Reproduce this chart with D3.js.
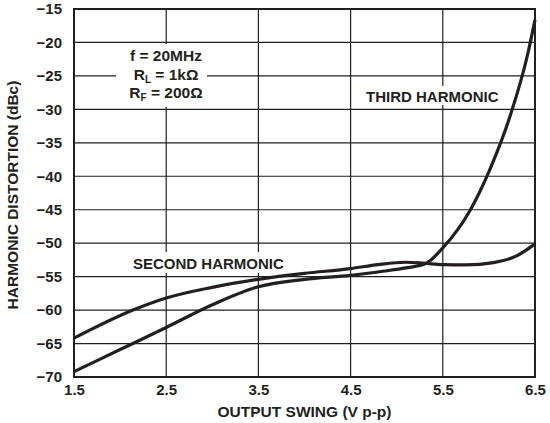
<!DOCTYPE html>
<html>
<head>
<meta charset="utf-8">
<script src="https://cdn.jsdelivr.net/npm/d3@7"></script>
<style>
  html, body { margin: 0; padding: 0; background: #fff; }
  svg { display: block; }
  text { font-family: "Liberation Sans", Arial, Helvetica, sans-serif; font-weight: bold; fill: #231f20; }
</style>
</head>
<body>
<svg id="chart" width="550" height="423"></svg>
<script>
// ---- data ----
const xTicks = [1.5, 2.5, 3.5, 4.5, 5.5, 6.5];
const yTicks = [-70, -65, -60, -55, -50, -45, -40, -35, -30, -25, -20, -15];

const secondX = [1.5, 2.14, 2.5, 3.0, 3.5, 4.0, 4.5, 4.8, 5.1, 5.3, 5.5, 5.75, 6.05, 6.3, 6.5];
const secondY = [-64.2, -60.0, -58.2, -56.6, -55.4, -54.5, -53.8, -53.2, -52.85, -53.0, -53.2, -53.25, -52.9, -51.9, -50.1];

const thirdX = [1.5, 2.0, 2.5, 3.0, 3.5, 4.0, 4.5, 4.85, 5.1, 5.32, 5.5, 5.8, 6.01, 6.23, 6.42, 6.5];
const thirdY = [-69.2, -65.9, -62.6, -59.2, -56.5, -55.4, -54.8, -54.2, -53.7, -53.0, -50.7, -45.0, -39.0, -31.0, -21.8, -16.6];

const annotation = ["f = 20MHz", "R|L| = 1k\u03A9", "R|F| = 200\u03A9"];
const xTitle = "OUTPUT SWING (V p-p)";
const yTitle = "HARMONIC DISTORTION (dBc)";

// ---- layout ----
const svg = d3.select("#chart");
const x = d3.scaleLinear().domain([1.5, 6.5]).range([74, 535]);
const y = d3.scaleLinear().domain([-70, -15]).range([377, 9]);
const ink = "#231f20";
const FONT = '"Liberation Sans", Arial, sans-serif';

// gridlines
const grid = svg.append("g");
grid.selectAll("line.v").data(xTicks).join("line")
  .attr("x1", d => x(d)).attr("x2", d => x(d))
  .attr("y1", y(-15)).attr("y2", y(-70))
  .attr("stroke", ink).attr("stroke-width", 1.2);
grid.selectAll("line.h").data(yTicks).join("line")
  .attr("y1", d => y(d)).attr("y2", d => y(d))
  .attr("x1", x(1.5)).attr("x2", x(6.5))
  .attr("stroke", ink).attr("stroke-width", 1.2);

// white boxes behind labels
svg.append("rect").attr("x", 116).attr("y", 44).attr("width", 91).attr("height", 63).attr("fill", "#fff");
svg.append("rect").attr("x", 362).attr("y", 86).attr("width", 142).attr("height", 19).attr("fill", "#fff");
svg.append("rect").attr("x", 129).attr("y", 252).attr("width", 162).attr("height", 21).attr("fill", "#fff");

// frame
svg.append("rect")
  .attr("x", x(1.5)).attr("y", y(-15))
  .attr("width", x(6.5) - x(1.5)).attr("height", y(-70) - y(-15))
  .attr("fill", "none").attr("stroke", ink).attr("stroke-width", 2);

// axes (labels only)
const xAxis = d3.axisBottom(x).tickValues(xTicks).tickSize(0).tickPadding(0).tickFormat(d3.format(".1f"));
const gx = svg.append("g").attr("transform", `translate(0,${y(-70)})`).call(xAxis);
gx.select(".domain").remove();
gx.selectAll("text").attr("font-size", 15).attr("dy", null).attr("y", 18)
  .style("font-family", FONT).style("font-weight", "bold").attr("fill", ink);

const yAxis = d3.axisLeft(y).tickValues(yTicks).tickSize(0).tickPadding(12);
const gy = svg.append("g").attr("transform", `translate(${x(1.5)},0)`).call(yAxis);
gy.select(".domain").remove();
gy.selectAll("text").attr("font-size", 15)
  .style("font-family", FONT).style("font-weight", "bold").attr("fill", ink);

// curves
const line = d3.line().x(d => x(d[0])).y(d => y(d[1])).curve(d3.curveMonotoneX);
const secondData = secondX.map((v, i) => [v, secondY[i]]);
const thirdData = thirdX.map((v, i) => [v, thirdY[i]]);
svg.append("path").datum(secondData).attr("d", line)
  .attr("fill", "none").attr("stroke", ink).attr("stroke-width", 3.2);
svg.append("path").datum(thirdData).attr("d", line)
  .attr("fill", "none").attr("stroke", ink).attr("stroke-width", 3.2);

// labels
svg.append("text").attr("x", 366).attr("y", 102).attr("font-size", 15).text("THIRD HARMONIC");
svg.append("text").attr("x", 133).attr("y", 269).attr("font-size", 15).text("SECOND HARMONIC");

// annotation
const ann = svg.append("g");
const annY = [61, 80, 98];
annotation.forEach((s, i) => {
  const parts = s.split("|");
  const t = ann.append("text").attr("x", 166).attr("y", annY[i]).attr("font-size", 15.5).attr("text-anchor", "middle");
  if (parts.length === 1) {
    t.text(s);
  } else {
    t.append("tspan").text(parts[0]);
    t.append("tspan").attr("dy", 3).attr("font-size", 10).text(parts[1]);
    t.append("tspan").attr("dy", -3).text(parts[2]);
  }
});

// axis titles
svg.append("text").attr("x", (x(1.5) + x(6.5)) / 2).attr("y", 417)
  .attr("text-anchor", "middle").attr("font-size", 15.5).text(xTitle);
svg.append("text").attr("transform", `translate(18,${(y(-15) + y(-70)) / 2 + 2}) rotate(-90)`)
  .attr("text-anchor", "middle").attr("font-size", 15.5).text(yTitle);
</script>
</body>
</html>
